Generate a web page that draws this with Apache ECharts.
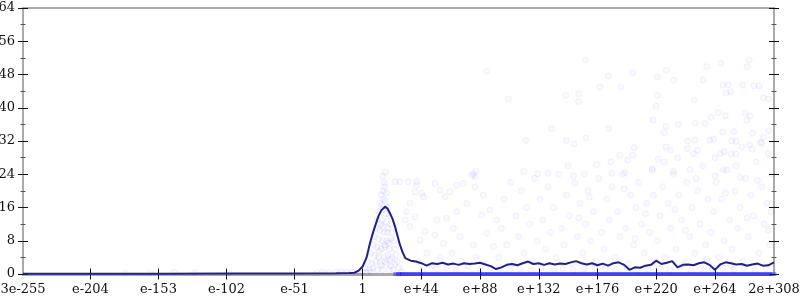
<!DOCTYPE html>
<html>
<head>
<meta charset="utf-8">
<script src="https://cdn.jsdelivr.net/npm/echarts@6/dist/echarts.min.js"></script>
<style>html,body{margin:0;padding:0;background:#fff}#c{width:800px;height:300px}</style>
</head>
<body>
<div id="c"></div>
<script>
// x values are log10 of the magnitude
const xMin = -254.52, xMax = 308.3;
const xTickPos = [-254.52, -204, -153, -102, -51, 0, 44, 88, 132, 176, 220, 264, 308.3];
const xTickLabels = ['3e-255', 'e-204', 'e-153', 'e-102', 'e-51', '1', 'e+44', 'e+88', 'e+132', 'e+176', 'e+220', 'e+264', '2e+308'];
const yTicks = [0, 8, 16, 24, 32, 40, 48, 56, 64];

// smoothed average line
const lineL = [-254.5, -200, -150, -100, -60, -20, -10, -6, -3, 0, 3, 5.5, 8, 11.7, 14, 16.8, 18.5, 20.5, 22.5, 24.3, 26, 28, 30, 32,
  36, 40, 44, 48, 52, 56, 60, 64, 68, 72, 76, 80, 84, 88, 92, 96, 100, 104, 108, 112, 116, 120, 124, 128, 132, 136, 140, 144, 148,
  152, 156, 160, 164, 168, 172, 176, 180, 184, 188, 192, 196, 200, 204, 208, 212, 216, 220, 224, 228, 232, 236, 240, 244, 248,
  252, 256, 260, 264, 268, 272, 276, 280, 284, 288, 292, 296, 300, 304, 308.3];
const lineV = [0.05, 0.05, 0.08, 0.1, 0.12, 0.18, 0.22, 0.3, 0.8, 1.8, 4.0, 7.4, 10.2, 13.8, 15.3, 16.2, 15.8, 14.6, 13.2, 11.4, 9.4, 7.0, 5.2, 3.8,
  3.2, 3.0, 2.6, 2.0, 2.6, 2.4, 2.7, 2.3, 2.5, 2.2, 2.6, 2.4, 2.5, 2.7, 2.3, 1.9, 1.2, 1.6, 2.2, 2.4, 2.1, 2.6, 3.0, 2.4, 2.6, 2.2, 2.6, 2.3, 2.5,
  2.4, 2.8, 3.1, 2.6, 2.3, 2.6, 2.1, 2.5, 2.0, 2.6, 2.8, 2.2, 1.0, 1.6, 1.5, 2.0, 2.2, 3.2, 2.4, 2.7, 3.1, 1.6, 2.2, 2.3, 2.1,
  2.6, 2.8, 2.2, 1.0, 2.3, 2.8, 2.6, 2.3, 2.4, 2.0, 2.3, 2.5, 2.0, 2.1, 2.8];

// individual samples [log10, value]
const peakSamples = [[15,23.5],[16,22],[17,24.5],[15.5,20],[16.5,21],[14,19],[18,19.5],[13,17],[17,17.5],[19,16],[12,15],[15,15.5],[20,14],
  [11,13],[14,13],[18,12.5],[21,12],[10,11],[13,10.5],[16,10],[19,11],[22,10],[9,9],[12,8.5],[15,8],[18,8],[21,8.5],[23,8],[8,7],[11,6.5],
  [14,6],[17,6.5],[20,6],[24,6],[6,5],[9,4.5],[12,4],[16,4],[19,4.5],[22,4],[25,4.5],[4,3],[7,2.5],[10,3],[13,2.5],[18,2.5],[21,2],[24,2.5],
  [26,3],[2,1.5],[5,1],[8,1.5],[11,1],[15,1],[20,1],[23,1],[27,1.5],[0,0.5],[3,0.3],[6,0.4],[-2,0.3],[-5,0.2],[29,0.5],[16,18],[14.5,16.5],
  [17.5,14.5],[13.5,12],[18.5,10],[15,11.5],[16.5,7],[19.5,7.5],[12.5,5.5],[17,3],[14,2],[20.5,3.5]];
const lowSamples = [[-8,0.5],[-12,0.4],[-16,0.6],[-20,0.5],[-25,0.4],[-30,0.5],[-34,0.3],[-126,0.3],[-141,0.4],[-159,0.3],[-178,0.3],[-100,0.2]];
const midSamples = [[24.3,22.2],[28,22.2],[34.2,22.2],[40.5,22.2],[40.5,21.4],[44.3,19.4],[39.3,19.8],[45.5,18.6],[35.5,17],[33,15],[39.3,13.8],
  [31.8,13],[46.8,10.2],[35.5,11.4],[43,8.2],[54.3,9.4],[54.3,21.8],[58,20.2],[61.8,18.6],[65.5,19.8],[70.5,21.4],[75.5,21.8],[83,24.2],
  [84.2,23.4],[84.2,21],[90.5,19],[70.5,15],[63,13.4],[68,11],[55.5,13],[60.5,7.4],[73,9],[83,7],[93,9.8],[98,6.6],[89.2,14.2],[78,17],
  [95.5,15.4],[100.5,13],[42,3],[48,5],[52,2],[58,4],[63,1.5],[67,5],[74,3],[79,2],[85,4],[91,2.5],[96,1.5],[45,1],[56,1.2],[70,0.9],[88,1.1],
  [102,4],[104,11],[106,18],[108,7],[111,22],[113,2.5],[115,14],[117,9],[119,20],[121,5],[123,16],[125,12],[127,3],[129,23],[131,8],[133,18],
  [135,13],[137,6],[139,21],[141,10],[103,1.5],[110,1],[118,1.2],[126,0.8],[134,1.5],
  [143,16],[145,4],[147,24],[149,11],[151,7],[153,19],[155,14],[157,2.5],[159,22],[161,9],[163,17],[165,5],[167,12],[169,20],[171,8],[173,15],
  [175,3],[177,23],[179,10],[144,1],[150,1.4],[158,0.9],[166,1.2],[174,1.6],[154,26],[170,18.5],[162,13.5],
  [181,6],[183,18],[185,13],[187,21],[189,4],[191,15],[193,9],[195,24],[197,11],[199,2.5],[201,19],[203,7],[205,16],[207,22],[209,12],[211,5],
  [213,17],[215,10],[217,25],[219,3],[182,1.3],[190,1],[198,1.5],[206,0.9],[214,1.2],[186,27],[196,20.5],[204,8.5],[212,14.5],[218,19],
  [221,8],[223,14],[225,21],[227,4],[229,17],[231,11],[233,24],[235,6],[237,19],[239,13],[241,2.5],[243,22],[245,9],[247,16],[249,5],[251,20],
  [253,12],[255,26],[257,7],[259,18],[222,1.4],[230,1],[238,1.6],[246,0.9],[254,1.3],[226,27],[234,15.5],[242,10.5],[250,23],[258,3.5],[236,28],[248,29],
  [261,10],[263,15],[265,22],[267,4],[269,18],[271,8],[273,25],[275,13],[277,6],[279,20],[281,11],[283,16],[285,3],[287,23],[289,9],[291,19],
  [293,14],[295,27],[297,5],[299,21],[301,12],[303,17],[305,7],[307,24],[262,1.2],[270,1.5],[278,1],[286,1.4],[294,0.9],[302,1.3],[264,28],
  [272,19.5],[280,26],[288,13.5],[296,22.5],[304,10.5],[268,29],[292,30],[306,15],[276,2.2]];
const highSamples = [[92.9,48.8],[166.9,51.5],[109.3,42.1],[184.1,47.7],[202.4,48.4],[227.6,49],[220.9,47.4],[232.9,46.6],[268.4,50.7],[289.8,51.5],
  [288.1,49.9],[257.8,49.9],[255.3,46.7],[270,45.5],[274,45.5],[284.9,45.5],[293.3,45.3],[297.3,45.3],[152.2,43],[161.9,43.4],[161.9,41.5],
  [177.8,45],[193.3,45],[220.9,43],[248.6,41.9],[272.3,43.5],[276,43.8],[300.3,42.4],[304.3,42.1],[219.9,40.4],[217.6,37],[141.6,35],[184.3,35],
  [122.2,32.1],[152.7,32.1],[158.7,31.3],[167.2,32.7],[227.4,35.5],[236.6,36],[249.1,36.3],[256.6,36.2],[261.1,37.7],[266.3,38.8],[271.8,38.1],
  [286.8,38.7],[287.8,37],[290.5,38],[226.1,34],[243.6,32],[249.1,32.2],[260.1,32.2],[263.1,32.4],[269.8,34.2],[278.1,34.3],[276.6,32],[280,31.9],
  [292.3,33.9],[300.5,32.9],[304.5,34.5],[298.3,31.7],[304,29],[192.7,28.6],[202.6,28.6],[203.6,30.4],[198.6,27.4],[221.6,27.7],[227.4,30.6],
  [230.9,29.8],[243.4,30.2],[250.9,29.8],[270.9,29.4],[276.2,28.9],[279.7,28.9],[284.2,30.6],[289.9,31.1],[298.9,31.4],[175.4,26.3],[217.1,25.4],
  [196.6,24.4],[186.7,24.2],[232.8,24.7],[245.4,25.1],[270.3,25.2],[264.1,23.6],[282.8,23.3],[84.9,24.8],[82.1,23.7],[120.8,24.7],[131.1,24.1],
  [139,24.2],[158.1,23.7],[166.1,24.1]];
// samples that are exactly zero (dense band along the bottom)
const zeroL = [26,28,31,34,37,40,43,46,49,52,55,58,61,64,67,70,73,76,79,82,85,88,91,94,97,100,103,106,109,112,115,118,121,124,127,130,133,136,139,
  142,145,148,151,154,157,160,163,166,169,172,175,178,181,184,187,190,193,196,199,202,205,208,211,214,217,220,223,226,229,232,235,238,241,244,247,
  250,253,256,259,262,265,268,271,274,277,280,283,286,289,292,295,298,301,304,307];

const allSamples = lowSamples.concat(peakSamples, midSamples, highSamples);
const zeroSamples = zeroL.map(l => [l, 0]);
const lineData = lineL.map((l, i) => [l, lineV[i]]);

const FONT = 'DejaVu Serif';
const labelMap = {};
xTickPos.forEach((p, i) => { labelMap[p] = xTickLabels[i]; });
const innerTicks = xTickPos.slice(1, -1);

function yAx(position, inside, showLabel, showLine) {
  return {
    type: 'value', position: position, min: 0, max: 64, interval: 8,
    axisLine: { show: showLine, onZero: false, lineStyle: { color: '#aaaaaa', width: 2 } },
    axisTick: { show: true, inside: inside, length: 5, lineStyle: { color: '#111', width: 1 } },
    minorTick: { show: true, splitNumber: 2, length: 2.5, lineStyle: { color: '#555', width: 1 } },
    axisLabel: { show: showLabel, margin: 8, fontFamily: FONT, fontSize: 13, color: '#111' },
    splitLine: { show: false }
  };
}
function xAx(inside, showLabel, showLine) {
  return {
    type: 'value', position: 'bottom', min: xMin, max: xMax,
    axisLine: { show: showLine, onZero: false, lineStyle: { color: '#aaaaaa', width: 3 } },
    axisTick: { show: true, inside: inside, length: 5.5, customValues: innerTicks, lineStyle: { color: '#111', width: 1 } },
    axisLabel: { show: showLabel, customValues: xTickPos, margin: 9, fontFamily: FONT, fontSize: 13, color: '#111',
      showMinLabel: true, showMaxLabel: true, hideOverlap: false,
      formatter: v => { for (const k in labelMap) { if (Math.abs(+k - v) < 1e-6) return labelMap[k]; } return ''; } },
    splitLine: { show: false }
  };
}

const chart = echarts.init(document.getElementById('c'), null, { renderer: 'canvas' });
chart.setOption({
  animation: false,
  backgroundColor: '#fff',
  grid: { left: 23, right: 26, top: 8, bottom: 26, show: true, borderColor: '#aaaaaa', borderWidth: 2,
    containLabel: false, outerBoundsMode: 'none' },
  xAxis: [xAx(false, true, true), xAx(true, false, false)],
  yAxis: [yAx('left', false, true, true), yAx('left', true, false, false), yAx('right', false, false, true), yAx('right', true, false, false)],
  series: [
    { type: 'scatter', xAxisIndex: 0, yAxisIndex: 0, data: allSamples, symbol: 'circle', symbolSize: 6, z: 2,
      itemStyle: { color: 'rgba(0,0,255,0.03)', borderColor: 'rgba(0,0,255,0.07)', borderWidth: 1 } },
    { type: 'scatter', xAxisIndex: 0, yAxisIndex: 0, data: zeroSamples, symbol: 'rect', symbolSize: [8, 4], z: 3,
      itemStyle: { color: 'rgba(10,10,255,0.5)', borderWidth: 0 } },
    { type: 'line', xAxisIndex: 0, yAxisIndex: 0, data: lineData, showSymbol: false, smooth: false, z: 5,
      lineStyle: { color: '#20208a', width: 2 } }
  ]
});
</script>
</body>
</html>
